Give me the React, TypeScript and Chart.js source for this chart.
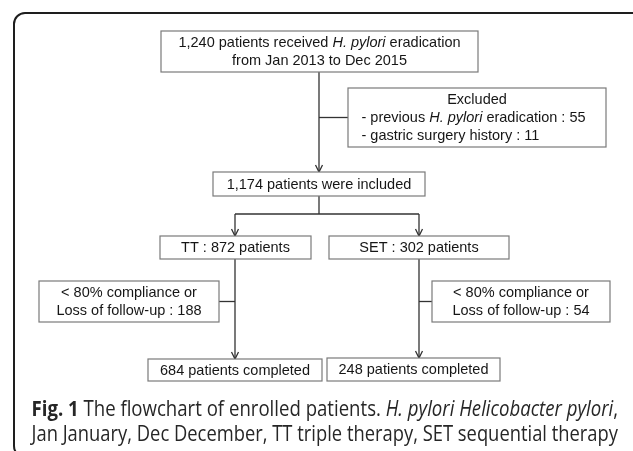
import React, { useEffect, useRef } from "react";
import { Chart, registerables } from "chart.js";

Chart.register(...registerables);

// ---------- data ----------
const receivedEradication = 1240;
const excludedPreviousEradication = 55;
const excludedGastricSurgery = 11;
const includedPatients = 1174;
const armNames = ["TT", "SET"];
const armPatients = [872, 302];
const armLost = [188, 54];
const armCompleted = [684, 248];
const studyPeriod = ["Jan 2013", "Dec 2015"];
const captionLines = [
  "**Fig. 1** The flowchart of enrolled patients. *H. pylori Helicobacter pylori*,",
  "Jan January, Dec December, TT triple therapy, SET sequential therapy",
];

const fmt = (n: number) => n.toLocaleString("en-US");

const boxTexts: string[][] = [
  [`${fmt(receivedEradication)} patients received *H. pylori* eradication`, `from ${studyPeriod[0]} to ${studyPeriod[1]}`],
  ["Excluded", `- previous *H. pylori* eradication : ${excludedPreviousEradication}`, `- gastric surgery history : ${excludedGastricSurgery}`],
  [`${fmt(includedPatients)} patients were included`],
  [`${armNames[0]} : ${armPatients[0]} patients`],
  [`${armNames[1]} : ${armPatients[1]} patients`],
  ["< 80% compliance or", `Loss of follow-up : ${armLost[0]}`],
  ["< 80% compliance or", `Loss of follow-up : ${armLost[1]}`],
  [`${armCompleted[0]} patients completed`],
  [`${armCompleted[1]} patients completed`],
];

// ---------- layout (in scale units) ----------
type Rect = [number, number, number, number];
const layout: { rect: Rect; align: "center" | "left" }[] = [
  { rect: [161, 31, 478, 72], align: "center" }, // 0 top
  { rect: [348, 88, 606, 147], align: "left" }, // 1 excluded
  { rect: [213, 172, 425, 196], align: "center" }, // 2 included
  { rect: [160, 236, 311, 259], align: "center" }, // 3 TT
  { rect: [329, 236, 509, 259], align: "center" }, // 4 SET
  { rect: [39, 281, 219, 322], align: "center" }, // 5 lost TT
  { rect: [432, 281, 610, 322], align: "center" }, // 6 lost SET
  { rect: [148, 359, 322, 381], align: "center" }, // 7 done TT
  { rect: [327, 358, 500, 381], align: "center" }, // 8 done SET
];
const splitY = 214;
const branchX = [235, 419];
const lineHeight = 17.7;

const cy = (r: Rect) => (r[1] + r[3]) / 2;
const R = layout.map((l) => l.rect);
const mainX = 319;

type Seg = { pts: { x: number; y: number }[]; arrow: boolean };
const segments: Seg[] = [
  { pts: [{ x: mainX, y: R[0][3] }, { x: mainX, y: R[2][1] }], arrow: true },
  { pts: [{ x: mainX, y: cy(R[1]) }, { x: R[1][0], y: cy(R[1]) }], arrow: false },
  { pts: [{ x: mainX, y: R[2][3] }, { x: mainX, y: splitY }], arrow: false },
  { pts: [{ x: branchX[0], y: splitY }, { x: branchX[1], y: splitY }], arrow: false },
  { pts: [{ x: branchX[0], y: splitY }, { x: branchX[0], y: R[3][1] }], arrow: true },
  { pts: [{ x: branchX[1], y: splitY }, { x: branchX[1], y: R[4][1] }], arrow: true },
  { pts: [{ x: branchX[0], y: R[3][3] }, { x: branchX[0], y: R[7][1] }], arrow: true },
  { pts: [{ x: R[5][2], y: cy(R[5]) }, { x: branchX[0], y: cy(R[5]) }], arrow: false },
  { pts: [{ x: branchX[1], y: R[4][3] }, { x: branchX[1], y: R[8][1] }], arrow: true },
  { pts: [{ x: branchX[1], y: cy(R[6]) }, { x: R[6][0], y: cy(R[6]) }], arrow: false },
];

// ---------- text helpers ----------
type Run = { t: string; b: boolean; i: boolean };
function parseRuns(s: string): Run[] {
  const runs: Run[] = [];
  const re = /(\*\*[^*]+\*\*|\*[^*]+\*)/g;
  let last = 0;
  let m: RegExpExecArray | null;
  while ((m = re.exec(s))) {
    if (m.index > last) runs.push({ t: s.slice(last, m.index), b: false, i: false });
    const tok = m[0];
    if (tok.startsWith("**")) runs.push({ t: tok.slice(2, -2), b: true, i: false });
    else runs.push({ t: tok.slice(1, -1), b: false, i: true });
    last = m.index + tok.length;
  }
  if (last < s.length) runs.push({ t: s.slice(last), b: false, i: false });
  return runs;
}
const fontOf = (r: Run, size: number, fam: string) =>
  `${r.i ? "italic " : ""}${r.b ? "bold " : ""}${size}px ${fam}`;

function drawRuns(
  ctx: CanvasRenderingContext2D,
  s: string,
  x: number,
  y: number,
  align: "center" | "left",
  size: number,
  fam: string,
  color: string,
  fitWidth?: number
) {
  const runs = parseRuns(s);
  let total = 0;
  const widths = runs.map((r) => {
    ctx.font = fontOf(r, size, fam);
    const w = ctx.measureText(r.t).width;
    total += w;
    return w;
  });
  const sx = fitWidth ? fitWidth / total : 1;
  ctx.save();
  ctx.translate(x, y);
  ctx.scale(sx, 1);
  let px = align === "center" ? -total / 2 : 0;
  ctx.fillStyle = color;
  runs.forEach((r, k) => {
    ctx.font = fontOf(r, size, fam);
    ctx.fillText(r.t, px, 0);
    px += widths[k];
  });
  ctx.restore();
}

const flowPlugin = {
  id: "flow",
  beforeDraw(chart: any) {
    const ctx = chart.ctx as CanvasRenderingContext2D;
    ctx.save();
    ctx.fillStyle = "#ffffff";
    ctx.fillRect(0, 0, chart.width, chart.height);
    const xs = chart.scales.x;
    const ys = chart.scales.y;
    // outer frame
    ctx.beginPath();
    (ctx as any).roundRect(xs.getPixelForValue(14), ys.getPixelForValue(13), 700, 444, 11);
    ctx.lineWidth = 2;
    ctx.strokeStyle = "#1e1e1e";
    ctx.stroke();
    ctx.restore();
  },
  afterDatasetsDraw(chart: any) {
    const ctx = chart.ctx as CanvasRenderingContext2D;
    const xs = chart.scales.x;
    const ys = chart.scales.y;
    const X = (v: number) => xs.getPixelForValue(v);
    const Y = (v: number) => ys.getPixelForValue(v);
    ctx.save();
    // arrowheads
    ctx.strokeStyle = "#333333";
    ctx.lineWidth = 1.3;
    segments.forEach((s) => {
      if (!s.arrow) return;
      const tip = s.pts[s.pts.length - 1];
      const tx = X(tip.x);
      const ty = Y(tip.y);
      ctx.beginPath();
      ctx.moveTo(tx - 3.5, ty - 7);
      ctx.lineTo(tx, ty);
      ctx.lineTo(tx + 3.5, ty - 7);
      ctx.stroke();
    });
    // boxes
    layout.forEach((l, k) => {
      const [x0, y0, x1, y1] = l.rect;
      const px0 = X(x0), py0 = Y(y0), px1 = X(x1), py1 = Y(y1);
      ctx.fillStyle = "#ffffff";
      ctx.fillRect(px0, py0, px1 - px0, py1 - py0);
      ctx.strokeStyle = "#7a7a7a";
      ctx.lineWidth = 1.2;
      ctx.strokeRect(px0, py0, px1 - px0, py1 - py0);
      const lines = boxTexts[k];
      ctx.textBaseline = "middle";
      const mid = (py0 + py1) / 2;
      lines.forEach((ln, j) => {
        const y = mid + (j - (lines.length - 1) / 2) * lineHeight;
        const isHeader = l.align === "left" && j === 0;
        if (l.align === "left" && !isHeader) {
          drawRuns(ctx, ln, px0 + 13.5, y + 0.5, "left", 14.5, "'Liberation Sans', Arial, sans-serif", "#161616");
        } else {
          drawRuns(ctx, ln, (px0 + px1) / 2, y + 0.5, "center", 14.5, "'Liberation Sans', Arial, sans-serif", "#161616");
        }
      });
    });
    // caption
    ctx.textBaseline = "alphabetic";
    const capBase = [416, 441];
    captionLines.forEach((ln, j) => {
      drawRuns(ctx, ln, X(31.5), Y(capBase[j]), "left", 21, "'Open Sans', sans-serif", "#262626", X(618) - X(31.5));
    });
    ctx.restore();
  },
};

export default function App() {
  const ref = useRef<HTMLCanvasElement>(null);
  useEffect(() => {
    const chart = new Chart(ref.current as HTMLCanvasElement, {
      type: "scatter",
      data: {
        datasets: segments.map((s) => ({
          data: s.pts,
          showLine: true,
          borderColor: "#333333",
          borderWidth: 1.3,
          pointRadius: 0,
          pointHoverRadius: 0,
          fill: false,
        })),
      },
      options: {
        animation: false,
        responsive: false,
        devicePixelRatio: 1,
        layout: { padding: 0 },
        events: [],
        scales: {
          x: { type: "linear", min: 0, max: 633, display: false },
          y: { type: "linear", min: 0, max: 451, reverse: true, display: false },
        },
        plugins: { legend: { display: false }, tooltip: { enabled: false }, title: { display: false } },
      },
      plugins: [flowPlugin],
    } as any);
    return () => chart.destroy();
  }, []);
  return (
    <div style={{ position: "fixed", left: 0, top: 0, width: 633, height: 451, background: "#fff" }}>
      <canvas ref={ref} width={633} height={451} style={{ display: "block", width: 633, height: 451 }} />
    </div>
  );
}
